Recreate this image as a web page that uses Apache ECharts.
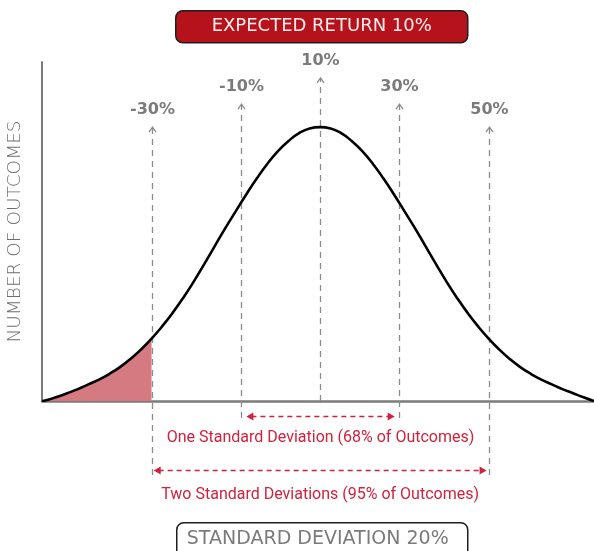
<!DOCTYPE html>
<html>
<head>
<meta charset="utf-8">
<script src="https://cdn.jsdelivr.net/npm/echarts@6/dist/echarts.min.js"></script>
<style>
  html, body { margin: 0; padding: 0; background: #fff; }
  #chart { width: 594px; height: 551px; }
</style>
</head>
<body>
<div id="chart"></div>
<script>
// curve: return (%) -> number of outcomes (arbitrary units)
var curveX = [-56, -55, -52.5, -50, -47.5, -45, -42.5, -40, -37.5, -35, -32.5, -30, -27.5, -25,
              -22.5, -20, -17.5, -15, -12.5, -10, -7.5, -5, -2.5, 0, 2.5, 5, 7.5, 10,
              12.5, 15, 17.5, 20, 22.5, 25, 27.5, 30, 32.5, 35, 37.5, 40, 42.5, 45,
              47.5, 50, 52.5, 55, 57.5, 60, 62.5, 65, 67.5, 70, 72.5, 75];
var curveY = [0, 0.2, 1.2, 2.3, 3.5, 4.9, 6.3, 8.0, 10.0, 12.4, 15.2, 18.4, 22.0, 26.0,
              30.4, 35.2, 40.4, 45.7, 51.0, 56.0, 61.0, 65.7, 70.0, 73.7, 76.7, 79.0, 80.4, 80.8,
              80.4, 79.0, 76.7, 73.7, 70.0, 65.7, 61.0, 56.0, 51.0, 45.7, 40.4, 35.2, 30.4, 26.0,
              22.0, 18.4, 15.2, 12.4, 10.0, 8.0, 6.3, 4.9, 3.5, 2.3, 1.1, 0];
var shadeTo = -30;

// dashed guide lines
var markerX = [-30, -8.7, 10, 28.7, 50];
var markerTop = [80.8, 87.6, 95.3, 87.6, 80.8];
var markerBottom = [-21.8, -5, 0, -5, -21.8];
var markerLabels = ['-30%', '-10%', '10%', '30%', '50%'];

// standard deviation ranges
var rangeFrom = [-7.5, -29.5];
var rangeTo = [27.7, 49.5];
var rangeY = [-4.4, -20.4];
var rangeLabels = ['One Standard Deviation (68% of Outcomes)', 'Two Standard Deviations (95% of Outcomes)'];

var titleText = 'EXPECTED RETURN 10%';
var footText = 'STANDARD DEVIATION 20%';
var yName = 'NUMBER OF OUTCOMES';

var grey = '#7b7b7b';
var red = '#d0223c';

var chart = echarts.init(document.getElementById('chart'));

var curveData = curveX.map(function (x, i) { return [x, curveY[i]]; });
var shadeData = curveData.filter(function (d) { return d[0] <= shadeTo; });

function markerItem(params, api) {
  var i = params.dataIndex;
  var top = api.coord([api.value(0), api.value(1)]);
  var bot = api.coord([api.value(0), api.value(2)]);
  var x = Math.round(top[0]) + 0.5;
  return {
    type: 'group',
    children: [
      { type: 'line', shape: { x1: x, y1: bot[1], x2: x, y2: top[1] + 1 },
        style: { stroke: '#8c8c8c', lineWidth: 1.3, lineDash: [6, 5] } },
      { type: 'polyline', shape: { points: [[x - 3.5, top[1] + 5], [x, top[1]], [x + 3.5, top[1] + 5]] },
        style: { stroke: '#8c8c8c', lineWidth: 1.3, fill: null } },
      { type: 'text', x: x, y: top[1] - 17,
        style: { text: markerLabels[i], fill: grey, font: 'bold 16px "DejaVu Sans"',
                 align: 'center', verticalAlign: 'middle' } }
    ]
  };
}

function rangeItem(params, api) {
  var i = params.dataIndex;
  var a = api.coord([api.value(0), api.value(2)]);
  var b = api.coord([api.value(1), api.value(2)]);
  var y = Math.round(a[1]) + 0.5;
  return {
    type: 'group',
    children: [
      { type: 'line', shape: { x1: a[0] + 5, y1: y, x2: b[0] - 5, y2: y },
        style: { stroke: red, lineWidth: 1.4, lineDash: [5, 4] } },
      { type: 'polygon', shape: { points: [[a[0], y], [a[0] + 7, y - 4], [a[0] + 7, y + 4]] },
        style: { fill: red } },
      { type: 'polygon', shape: { points: [[b[0], y], [b[0] - 7, y - 4], [b[0] - 7, y + 4]] },
        style: { fill: red } },
      { type: 'text', x: (a[0] + b[0]) / 2, y: y + (i === 0 ? 21 : 24),
        style: { text: rangeLabels[i], fill: red, font: '16px "Roboto"',
                 align: 'center', verticalAlign: 'middle' } }
    ]
  };
}

chart.setOption({
  animation: false,
  grid: { left: 42, right: 0, top: 62, bottom: 150, outerBoundsMode: 'none', containLabel: false },
  xAxis: {
    type: 'value', min: -56, max: 75,
    axisLine: { onZero: false, lineStyle: { color: grey, width: 2.5 } },
    axisTick: { show: false }, axisLabel: { show: false }, splitLine: { show: false }
  },
  yAxis: {
    type: 'value', min: 0, max: 100,
    name: yName, nameLocation: 'middle', nameRotate: 90, nameGap: 17,
    nameTextStyle: { color: '#6e6e6e', fontSize: 18.5, fontFamily: 'DejaVu Sans', fontWeight: 'lighter' },
    axisLine: { show: true, onZero: false, lineStyle: { color: grey, width: 2 } },
    axisTick: { show: false }, axisLabel: { show: false }, splitLine: { show: false }
  },
  graphic: [
    { type: 'group', left: 175, top: 10, children: [
      { type: 'rect', shape: { x: 0, y: 0, width: 292, height: 32, r: 7 },
        style: { fill: '#b5121b', stroke: '#1e1e1e', lineWidth: 1.5 } },
      { type: 'text', x: 146, y: 16,
        style: { text: titleText, fill: '#fbeeee', font: '18px "DejaVu Sans"',
                 align: 'center', verticalAlign: 'middle' } }
    ] },
    { type: 'group', left: 176, top: 522, children: [
      { type: 'rect', shape: { x: 0, y: 0, width: 291, height: 40, r: 7 },
        style: { fill: '#fff', stroke: '#1e1e1e', lineWidth: 1.5 } },
      { type: 'text', x: 141, y: 16.5,
        style: { text: footText, fill: grey, font: '19px "DejaVu Sans"',
                 align: 'center', verticalAlign: 'middle' } }
    ] }
  ],
  series: [
    { type: 'line', data: shadeData, smooth: true, showSymbol: false, z: 1,
      lineStyle: { width: 0 }, areaStyle: { color: '#d47a80', opacity: 1 } },
    { type: 'custom', renderItem: markerItem, z: 2, clip: false,
      data: markerX.map(function (x, i) { return [x, markerTop[i], markerBottom[i]]; }) },
    { type: 'custom', renderItem: rangeItem, z: 2, clip: false,
      data: rangeFrom.map(function (x, i) { return [x, rangeTo[i], rangeY[i]]; }) },
    { type: 'line', data: curveData, smooth: true, showSymbol: false, z: 3,
      lineStyle: { color: '#000', width: 2.6 } }
  ]
});
</script>
</body>
</html>
